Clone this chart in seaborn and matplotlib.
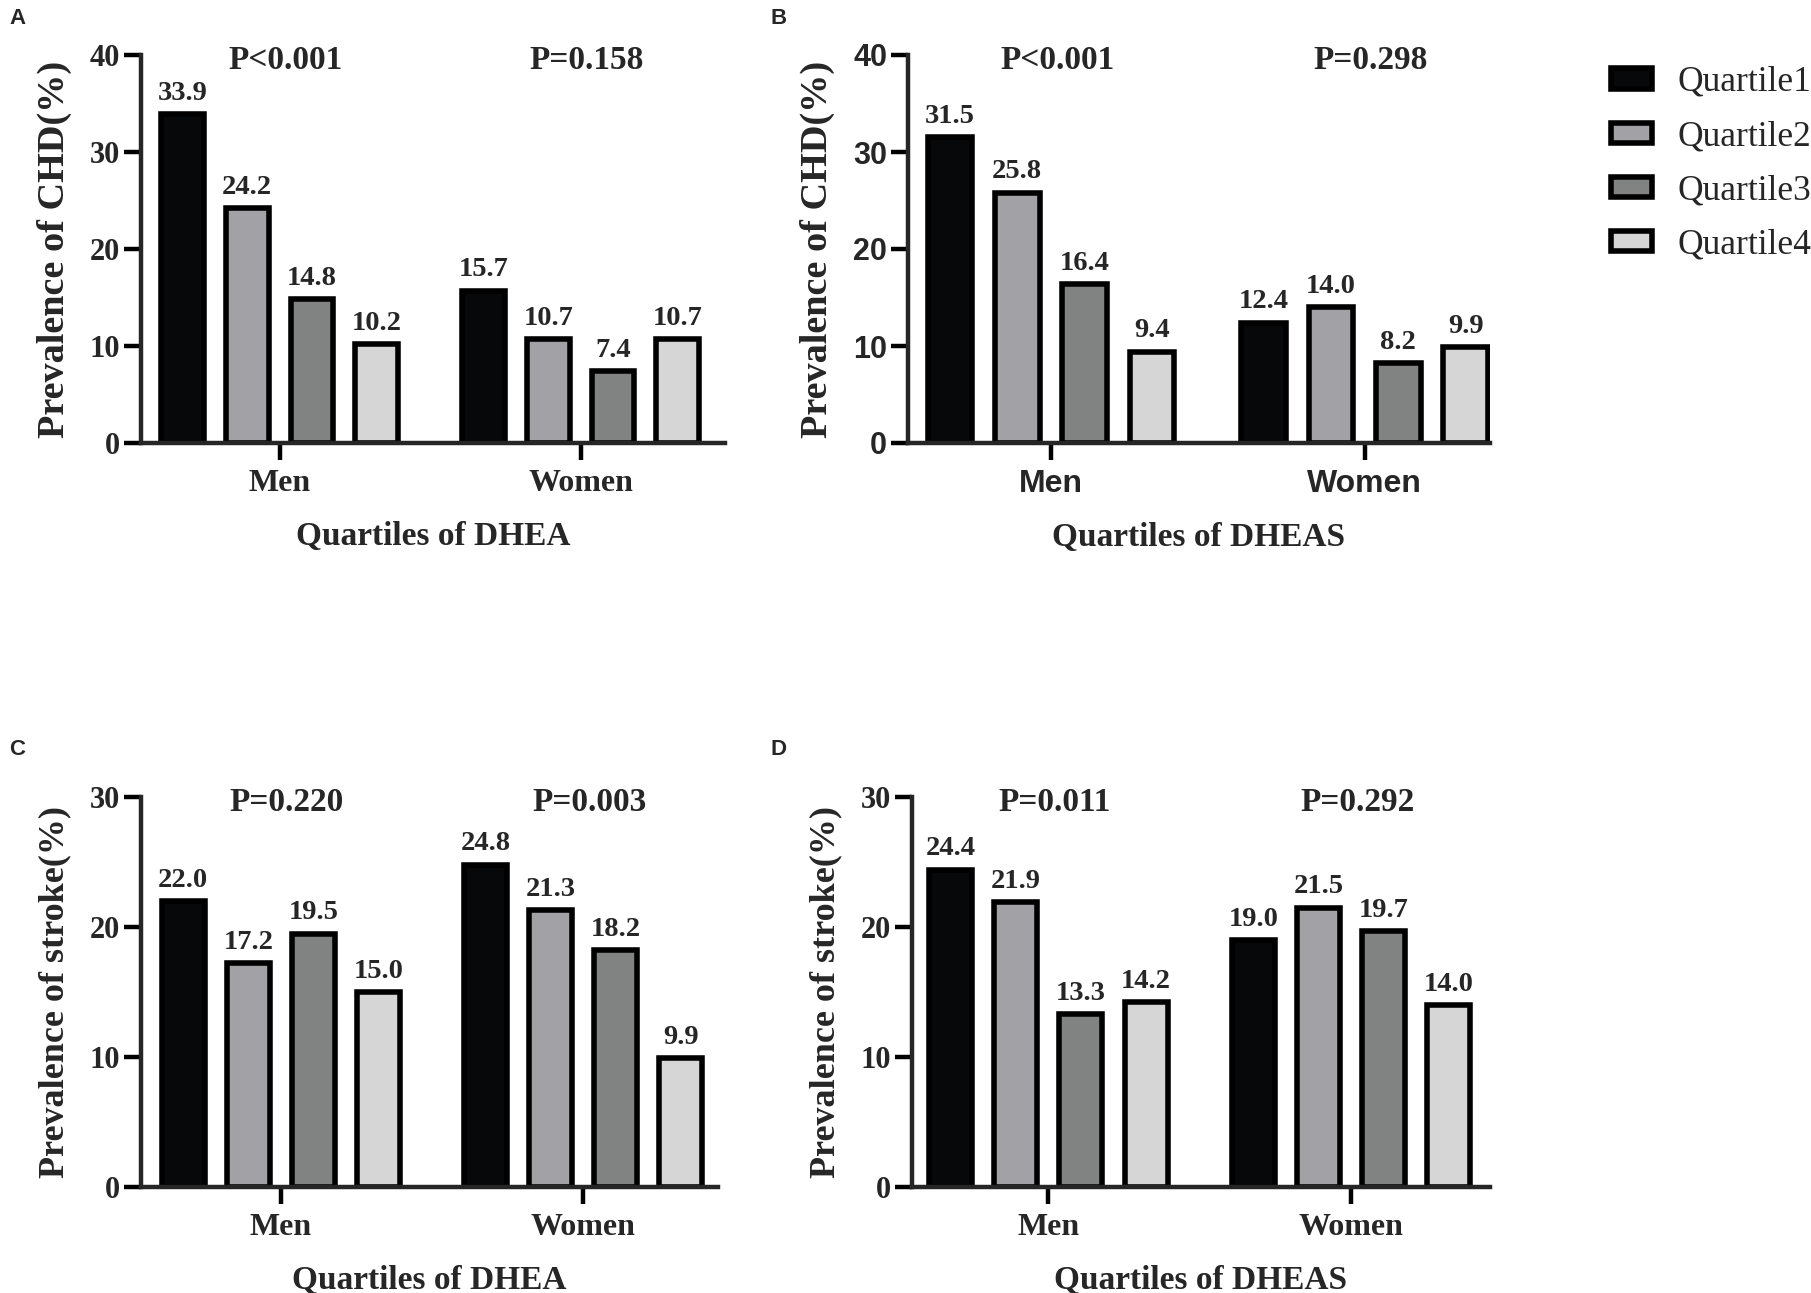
import numpy as np
import pandas as pd
import matplotlib
matplotlib.use("Agg")
import matplotlib.pyplot as plt
import seaborn as sns

# ---------------- data ----------------
sexes = ["Men", "Women"]
quartiles = ["Quartile1", "Quartile2", "Quartile3", "Quartile4"]
colors = ["#060809", "#a1a1a6", "#818382", "#d5d6d5"]

chd_dhea_men = [33.9, 24.2, 14.8, 10.2]
chd_dhea_women = [15.7, 10.7, 7.4, 10.7]
chd_dhea_p = ["P<0.001", "P=0.158"]

chd_dheas_men = [31.5, 25.8, 16.4, 9.4]
chd_dheas_women = [12.4, 14.0, 8.2, 9.9]
chd_dheas_p = ["P<0.001", "P=0.298"]

stroke_dhea_men = [22.0, 17.2, 19.5, 15.0]
stroke_dhea_women = [24.8, 21.3, 18.2, 9.9]
stroke_dhea_p = ["P=0.220", "P=0.003"]

stroke_dheas_men = [24.4, 21.9, 13.3, 14.2]
stroke_dheas_women = [19.0, 21.5, 19.7, 14.0]
stroke_dheas_p = ["P=0.011", "P=0.292"]

chd_ticks = [0, 10, 20, 30, 40]
stroke_ticks = [0, 10, 20, 30]

# ---------------- style ----------------
sns.set_style("ticks")
plt.rcParams["font.family"] = ["Liberation Serif", "DejaVu Serif"]
plt.rcParams["font.weight"] = "bold"

SERIF = ["Liberation Serif", "DejaVu Serif"]
SANS = ["Liberation Sans", "DejaVu Sans"]

W, H = 1811, 1293
fig = plt.figure(figsize=(W / 100, H / 100), dpi=100)


def px_axes(left, right, top, bottom):
    return fig.add_axes([left / W, 1 - bottom / H, (right - left) / W, (bottom - top) / H])


def panel(ax, men, women, pvals, ylabel, ylsize, xlabel, ticks, xlim, tick_family):
    df = pd.DataFrame({
        "Sex": np.repeat(sexes, len(quartiles)),
        "Quartile": quartiles * len(sexes),
        "Value": list(men) + list(women),
    })
    sns.barplot(data=df, x="Sex", y="Value", hue="Quartile", order=sexes,
                hue_order=quartiles, palette=colors, saturation=1,
                edgecolor="black", linewidth=4, width=0.86, gap=0.34,
                errorbar=None, legend=False, ax=ax)
    for c in ax.containers:
        ax.bar_label(c, fmt="%.1f", padding=6, fontsize=20.5,
                     fontweight="bold", family=SERIF)
    ymax = ticks[-1]
    ax.set_ylim(0, ymax)
    ax.set_yticks(ticks, labels=[str(t) for t in ticks], family=tick_family,
                  fontsize=22, fontweight="bold")
    ax.set_xticks(range(len(sexes)), labels=sexes, family=tick_family,
                  fontsize=23, fontweight="bold")
    ax.set_xlim(*xlim)
    for i, p in enumerate(pvals):
        ax.annotate(p, xy=(i + 0.02, ymax), xytext=(0, -4), textcoords="offset points",
                    ha="center", va="center", fontsize=24,
                    fontweight="bold", family=SERIF, annotation_clip=False)
    ax.set_ylabel(ylabel, fontsize=ylsize, fontweight="bold", family=SERIF, labelpad=13)
    ax.set_xlabel(xlabel, fontsize=24, fontweight="bold", family=SERIF, labelpad=16)
    sns.despine(ax=ax)
    for s in ["left", "bottom"]:
        ax.spines[s].set_linewidth(3.2)
    ax.tick_params(axis="both", direction="out", length=12, width=3.2, color="black")
    ax.tick_params(axis="y", pad=3)
    ax.tick_params(axis="x", pad=7)


axA = px_axes(141, 725, 55, 443)
axB = px_axes(908, 1490, 55, 443)
axC = px_axes(141, 718, 797, 1187)
axD = px_axes(912, 1490, 797, 1187)

panel(axA, chd_dhea_men, chd_dhea_women, chd_dhea_p, "Prevalence of CHD(%)", 27.5,
      "Quartiles of DHEA", chd_ticks, (-0.46, 1.479), SERIF)
panel(axB, chd_dheas_men, chd_dheas_women, chd_dheas_p, "Prevalence of CHD(%)", 27.5,
      "Quartiles of DHEAS", chd_ticks, (-0.456, 1.40), SANS)
panel(axC, stroke_dhea_men, stroke_dhea_women, stroke_dhea_p, "Prevalence of stroke(%)", 26,
      "Quartiles of DHEA", stroke_ticks, (-0.462, 1.445), SERIF)
panel(axD, stroke_dheas_men, stroke_dheas_women, stroke_dheas_p, "Prevalence of stroke(%)", 26,
      "Quartiles of DHEAS", stroke_ticks, (-0.45, 1.458), SERIF)

# legend built from panel B's bars
handles = [axB.containers[i].patches[0] for i in range(len(quartiles))]
fig.legend(handles, quartiles, loc="upper left",
           bbox_to_anchor=(1611 / W, 1 - 66 / H), frameon=False,
           prop={"family": SERIF, "size": 25.5, "weight": "normal"},
           handlelength=1.17, handleheight=0.5, handletextpad=0.72,
           labelspacing=0.6, borderpad=0, borderaxespad=0)

# panel letters
for letter, x, y in [("A", 9, 8), ("B", 770, 8), ("C", 9, 739), ("D", 770, 739)]:
    fig.text(x / W, 1 - y / H, letter, ha="left", va="top", fontsize=16,
             fontweight="bold", family=SANS)

fig.savefig("out.png", dpi=100)
